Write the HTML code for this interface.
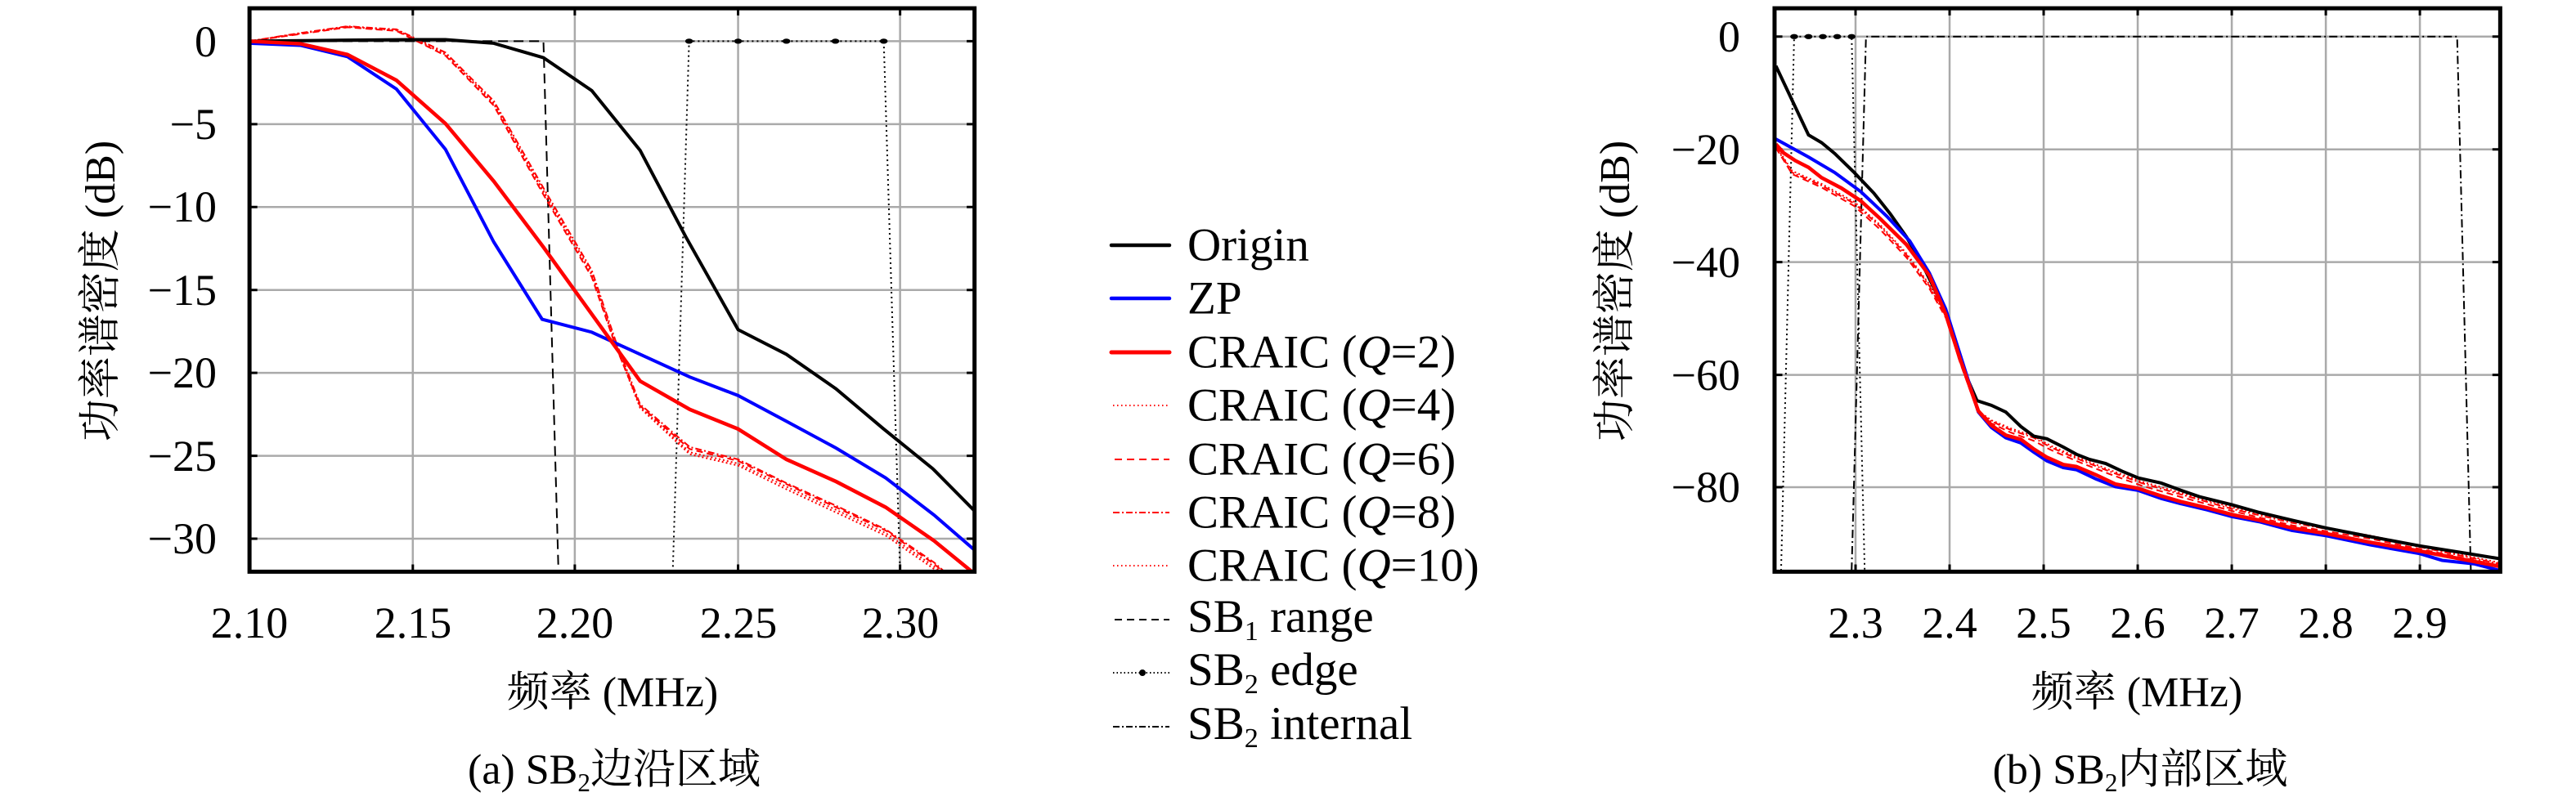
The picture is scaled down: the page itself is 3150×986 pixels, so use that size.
<!DOCTYPE html>
<html><head><meta charset="utf-8"><style>
html,body{margin:0;padding:0;background:#fff}
#c{position:relative;width:3150px;height:986px;overflow:hidden;font-family:"Liberation Serif","DejaVu Serif","Noto Serif CJK SC",serif;color:#000}
.t{position:absolute;white-space:nowrap;line-height:1;font-family:"Liberation Serif","DejaVu Serif","Noto Serif CJK SC",serif}
.yl{font-size:54px;transform:translate(-100%,-50%)}
.xl{font-size:54px;transform:translate(-50%,-50%)}
.lab{font-size:52px;transform:translate(-50%,-50%)}
.rot{font-size:52px;transform:translate(-50%,-50%) rotate(-90deg)}
.lg{font-size:57px;transform:translate(0,-50%)}
sub{font-size:0.6em;vertical-align:-0.3em}
svg{position:absolute;left:0;top:0}
</style></head><body><div id="c">
<svg width="3150" height="986">
<!-- left plot -->
<svg x="0" y="0" width="1250" height="986" viewBox="0 0 1565 1565" preserveAspectRatio="none" fill="none">
<path vector-effect="non-scaling-stroke" stroke="#aaa" stroke-width="2.5" d="M632 16V1110M880 16V1110M1130 16V1110M1378 16V1110M382 80H1492M382 241H1492M382 402H1492M382 563H1492M382 724H1492M382 885H1492M382 1046H1492"/>
<path vector-effect="non-scaling-stroke" stroke="#000" stroke-width="3" d="M382 80h12M382 241h12M382 402h12M382 563h12M382 724h12M382 885h12M382 1046h12M1492 80h-12M1492 241h-12M1492 402h-12M1492 563h-12M1492 724h-12M1492 885h-12M1492 1046h-12M632 1110v-14M880 1110v-14M1130 1110v-14M1378 1110v-14M632 16v14M880 16v14M1130 16v14M1378 16v14"/>
<polyline vector-effect="non-scaling-stroke" stroke="#000" stroke-width="2" stroke-dasharray="12,7" points="382,80 832,80 855,1110"/>
<polyline vector-effect="non-scaling-stroke" stroke="#000" stroke-width="2" stroke-dasharray="2,4" points="1030,1110 1055,80 1353,80 1378,1110"/>
<g fill="#000"><ellipse cx="1055" cy="80" rx="6" ry="5"/><ellipse cx="1130" cy="80" rx="6" ry="5"/><ellipse cx="1204" cy="80" rx="6" ry="5"/><ellipse cx="1279" cy="80" rx="6" ry="5"/><ellipse cx="1353" cy="80" rx="6" ry="5"/></g>
<g stroke="#f00" stroke-width="2">
<polyline vector-effect="non-scaling-stroke" stroke-dasharray="2,3" points="382,80 460,65 532,52 607,58 682,105 756,200 832,370 906,530 942,665 980,790 1056,878 1130,900 1204,945 1280,990 1356,1035 1430,1100 1440,1110"/>
<polyline vector-effect="non-scaling-stroke" stroke-dasharray="8,5" points="382,80 460,66 532,53 607,60 682,108 756,205 832,378 906,538 942,670 980,788 1056,872 1130,895 1204,940 1280,985 1356,1030 1430,1095 1444,1110"/>
<polyline vector-effect="non-scaling-stroke" stroke-dasharray="8,3,2,3" points="382,80 460,64 532,51 607,57 682,102 756,196 832,365 906,525 942,660 980,785 1056,868 1130,892 1204,938 1280,982 1356,1028 1430,1092 1446,1110"/>
<polyline vector-effect="non-scaling-stroke" stroke-dasharray="2,3" points="382,80 460,65 532,52 607,59 682,106 756,202 832,374 906,534 942,668 980,792 1056,882 1130,904 1204,950 1280,995 1356,1040 1436,1110"/>
</g>
<polyline vector-effect="non-scaling-stroke" stroke="#000" stroke-width="4" points="382,80 530,78 632,77 682,77 756,84 832,112 906,176 980,292 1050,460 1130,640 1204,688 1280,755 1352,832 1428,910 1492,992"/>
<polyline vector-effect="non-scaling-stroke" stroke="#00f" stroke-width="4" points="382,84 460,88 532,110 607,173 682,290 756,470 830,620 906,645 980,688 1056,732 1130,768 1204,818 1280,870 1356,928 1430,1000 1492,1068"/>
<polyline vector-effect="non-scaling-stroke" stroke="#f00" stroke-width="4.5" points="382,80 460,85 532,106 607,156 682,240 756,352 832,480 906,610 980,740 1056,795 1130,833 1204,892 1280,935 1356,985 1430,1050 1488,1110"/>
<rect vector-effect="non-scaling-stroke" x="382" y="16" width="1110" height="1094" stroke="#000" stroke-width="5"/>
</svg>
<!-- right plot -->
<svg x="1900" y="0" width="1250" height="986" viewBox="0 0 1565 1565" preserveAspectRatio="none" fill="none">
<path vector-effect="non-scaling-stroke" stroke="#aaa" stroke-width="2.5" d="M462 16V1110M606 16V1110M750 16V1110M894 16V1110M1038 16V1110M1182 16V1110M1326 16V1110M338 71H1449M338 290H1449M338 509H1449M338 728H1449M338 946H1449"/>
<path vector-effect="non-scaling-stroke" stroke="#000" stroke-width="3" d="M338 71h12M338 290h12M338 509h12M338 728h12M338 946h12M1449 71h-12M1449 290h-12M1449 509h-12M1449 728h-12M1449 946h-12M462 1110v-14M606 1110v-14M750 1110v-14M894 1110v-14M1038 1110v-14M1182 1110v-14M1326 1110v-14M462 16v14M606 16v14M750 16v14M894 16v14M1038 16v14M1182 16v14M1326 16v14"/>
<polyline vector-effect="non-scaling-stroke" stroke="#000" stroke-width="2" stroke-dasharray="2,4" points="348,1108 368,71 456,71 476,1108"/>
<g fill="#000"><ellipse cx="368" cy="71" rx="6" ry="5"/><ellipse cx="390" cy="71" rx="6" ry="5"/><ellipse cx="412" cy="71" rx="6" ry="5"/><ellipse cx="434" cy="71" rx="6" ry="5"/><ellipse cx="456" cy="71" rx="6" ry="5"/></g>
<polyline vector-effect="non-scaling-stroke" stroke="#000" stroke-width="2" stroke-dasharray="10,4,2,4" points="456,1108 478,71 1383,71 1404,1108"/>
<g stroke="#f00" stroke-width="2">
<polyline vector-effect="non-scaling-stroke" stroke-dasharray="8,3,2,3" points="340,285 365,335 410,360 460,395 500,440 540,495 575,555 605,625 620,695 650,800 670,818 700,835 735,850 760,868 800,890 850,915 900,938 960,960 1038,988 1130,1015 1250,1042 1326,1062 1449,1095"/>
<polyline vector-effect="non-scaling-stroke" stroke-dasharray="8,5" points="340,287 365,338 410,364 460,400 500,446 540,500 575,560 605,628 620,697 650,802 670,822 700,840 735,856 760,873 800,895 850,920 900,943 960,965 1038,992 1130,1020 1250,1046 1326,1066 1449,1098"/>
<polyline vector-effect="non-scaling-stroke" stroke-dasharray="2,3" points="340,283 365,332 410,357 460,392 500,437 540,492 575,552 605,622 620,693 650,798 670,816 700,832 735,847 760,865 800,887 850,912 900,935 960,957 1038,985 1130,1012 1250,1040 1326,1060 1449,1093"/>
</g>
<polyline vector-effect="non-scaling-stroke" stroke="#000" stroke-width="4" points="340,128 365,195 390,262 410,277 430,298 460,335 490,375 515,415 540,460 565,515 590,580 607,630 628,720 648,778 670,787 692,800 715,828 735,847 755,852 780,868 800,882 820,892 845,900 870,915 895,928 930,938 960,952 990,965 1038,980 1080,995 1130,1010 1182,1025 1250,1042 1326,1060 1400,1075 1449,1085"/>
<polyline vector-effect="non-scaling-stroke" stroke="#00f" stroke-width="4" points="340,270 390,305 430,335 470,372 510,420 545,468 575,530 600,600 620,680 650,800 670,830 692,850 715,860 735,878 755,895 780,908 800,912 830,930 860,945 894,952 930,968 960,978 1000,990 1038,1003 1080,1013 1130,1030 1182,1040 1250,1058 1326,1075 1360,1088 1410,1095 1449,1108"/>
<polyline vector-effect="non-scaling-stroke" stroke="#f00" stroke-width="4.5" points="340,280 352,297 370,312 390,325 410,345 440,365 470,390 500,425 540,475 575,535 600,610 620,690 650,798 670,826 692,845 715,853 735,872 755,888 780,902 800,906 830,922 860,940 894,948 930,963 960,974 1000,986 1038,999 1080,1010 1130,1025 1182,1036 1250,1053 1326,1070 1449,1100"/>
<rect vector-effect="non-scaling-stroke" x="338" y="16" width="1111" height="1094" stroke="#000" stroke-width="5"/>
</svg>
<!-- legend lines -->
<g fill="none">
<line x1="1359" y1="300" x2="1430" y2="300" stroke="#000" stroke-width="4.5" stroke-linecap="round"/>
<line x1="1359" y1="365" x2="1430" y2="365" stroke="#00f" stroke-width="4.5" stroke-linecap="round"/>
<line x1="1359" y1="431" x2="1430" y2="431" stroke="#f00" stroke-width="5" stroke-linecap="round"/>
<line x1="1361" y1="496" x2="1430" y2="496" stroke="#f00" stroke-width="2" stroke-dasharray="1.5,3.5"/>
<line x1="1363" y1="562" x2="1430" y2="562" stroke="#f00" stroke-width="2" stroke-dasharray="9,6"/>
<line x1="1361" y1="627" x2="1430" y2="627" stroke="#f00" stroke-width="2" stroke-dasharray="8,3,2,3"/>
<line x1="1361" y1="692" x2="1430" y2="692" stroke="#f00" stroke-width="2" stroke-dasharray="1.5,3.5"/>
<line x1="1363" y1="758" x2="1430" y2="758" stroke="#000" stroke-width="2" stroke-dasharray="9,6"/>
<line x1="1361" y1="823" x2="1430" y2="823" stroke="#000" stroke-width="2" stroke-dasharray="1.5,3"/>
<circle cx="1397" cy="823" r="4" fill="#000"/>
<line x1="1361" y1="889" x2="1430" y2="889" stroke="#000" stroke-width="2" stroke-dasharray="8,3,2,3"/>
</g>
</svg>
<!-- left tick labels -->
<div class="t yl" style="left:265px;top:51px">0</div>
<div class="t yl" style="left:265px;top:152px">−5</div>
<div class="t yl" style="left:265px;top:253px">−10</div>
<div class="t yl" style="left:265px;top:355px">−15</div>
<div class="t yl" style="left:265px;top:456px">−20</div>
<div class="t yl" style="left:265px;top:558px">−25</div>
<div class="t yl" style="left:265px;top:659px">−30</div>
<div class="t xl" style="left:305px;top:762px">2.10</div>
<div class="t xl" style="left:505px;top:762px">2.15</div>
<div class="t xl" style="left:703px;top:762px">2.20</div>
<div class="t xl" style="left:903px;top:762px">2.25</div>
<div class="t xl" style="left:1101px;top:762px">2.30</div>
<div class="t rot" style="left:124px;top:356px">功率谱密度 (dB)</div>
<div class="t lab" style="left:749px;top:848px">频率 (MHz)</div>
<div class="t lab" style="left:751px;top:945px">(a) SB<sub>2</sub>边沿区域</div>
<!-- right tick labels -->
<div class="t yl" style="left:2128px;top:45px">0</div>
<div class="t yl" style="left:2128px;top:183px">−20</div>
<div class="t yl" style="left:2128px;top:321px">−40</div>
<div class="t yl" style="left:2128px;top:459px">−60</div>
<div class="t yl" style="left:2128px;top:596px">−80</div>
<div class="t xl" style="left:2269px;top:762px">2.3</div>
<div class="t xl" style="left:2384px;top:762px">2.4</div>
<div class="t xl" style="left:2499px;top:762px">2.5</div>
<div class="t xl" style="left:2614px;top:762px">2.6</div>
<div class="t xl" style="left:2729px;top:762px">2.7</div>
<div class="t xl" style="left:2844px;top:762px">2.8</div>
<div class="t xl" style="left:2959px;top:762px">2.9</div>
<div class="t rot" style="left:1976px;top:356px">功率谱密度 (dB)</div>
<div class="t lab" style="left:2613px;top:848px">频率 (MHz)</div>
<div class="t lab" style="left:2617px;top:945px">(b) SB<sub>2</sub>内部区域</div>
<!-- legend text -->
<div class="t lg" style="left:1452px;top:300px">Origin</div>
<div class="t lg" style="left:1452px;top:365px">ZP</div>
<div class="t lg" style="left:1452px;top:431px">CRAIC (<i>Q</i>=2)</div>
<div class="t lg" style="left:1452px;top:496px">CRAIC (<i>Q</i>=4)</div>
<div class="t lg" style="left:1452px;top:562px">CRAIC (<i>Q</i>=6)</div>
<div class="t lg" style="left:1452px;top:627px">CRAIC (<i>Q</i>=8)</div>
<div class="t lg" style="left:1452px;top:692px">CRAIC (<i>Q</i>=10)</div>
<div class="t lg" style="left:1452px;top:758px">SB<sub>1</sub> range</div>
<div class="t lg" style="left:1452px;top:823px">SB<sub>2</sub> edge</div>
<div class="t lg" style="left:1452px;top:889px">SB<sub>2</sub> internal</div>
</div></body></html>
